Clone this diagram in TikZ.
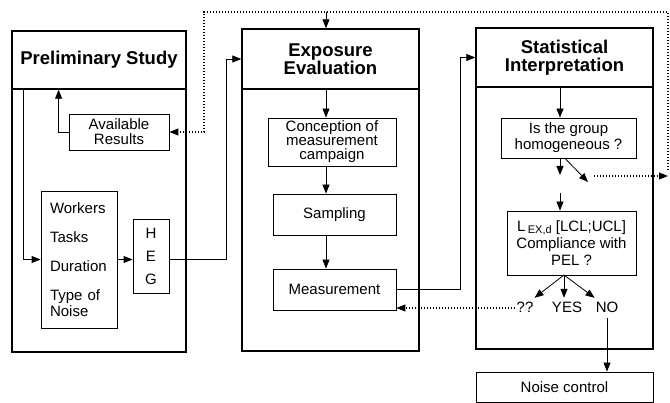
\documentclass[tikz,border=0pt]{standalone}
\usepackage{fontspec}
\setmainfont{Liberation Sans}
\usetikzlibrary{positioning,calc,arrows.meta}

\tikzset{
  head/.style={draw, line width=1.4pt, font=\fontsize{18.5}{18}\selectfont\bfseries, align=center, inner sep=0pt},
  frame/.style={draw, line width=1.4pt, inner sep=0pt},
  box/.style={draw, line width=0.8pt, font=\fontsize{15}{15}\selectfont, align=center, inner sep=0pt},
  lbl/.style={font=\fontsize{15}{15}\selectfont, inner xsep=1pt, inner ysep=5pt, text height=10pt, text depth=0pt},
  arr/.style={line width=0.8pt, -{Triangle[length=9pt,width=7pt]}},
  dotarr/.style={line width=1.1pt, dash pattern=on 1.1pt off 1.9pt, -{Triangle[length=9pt,width=7pt]}},
}

\begin{document}
\begin{tikzpicture}[x=1pt,y=-1pt]
    \useasboundingbox (0,0) rectangle (670,403);
    % columns of the vertical flow arrows
    \coordinate (leftcol) at (23,0);
    \coordinate (evalcol) at (326,0);
    \coordinate (statcol) at (560,0);

    % Preliminary Study
    \node[frame, minimum width=174pt, minimum height=263pt] (prelimbody) at (99,220.5) {};
    \node[head, minimum width=174pt, minimum height=58pt] (prelimhead) at (99,60) {Preliminary Study};
    \node[box, minimum width=100pt, minimum height=36pt] (avail) at (119,132) {Available\\Results};
    \node[box, font=\fontsize{15}{16}\selectfont, align=left, text width=58pt, inner xsep=9pt, minimum height=137pt] (factors) at (79,259.5) {Workers\\[13pt]Tasks\\[13pt]Duration\\[13pt]Type of\\Noise};
    \node[box, minimum width=36pt, minimum height=74pt] (heg) at (151,256) {H\\[8pt]E\\[8pt]G};

    % Exposure Evaluation
    \node[frame, minimum width=177pt, minimum height=262pt] (evalbody) at (330.5,220) {};
    \node[head, minimum width=177pt, minimum height=60pt] (evalhead) at (330.5,59) {Exposure\\Evaluation};
    \node[box, font=\fontsize{15}{14}\selectfont, minimum width=128pt, minimum height=48pt] (conc) at (332,142) {Conception of\\measurement\\campaign};
    \node[box, minimum width=123pt, minimum height=41pt] (samp) at (334.5,214.5) {Sampling};
    \node[box, minimum width=123pt, minimum height=41pt] (meas) at (334.5,289.5) {Measurement};

    % Statistical Interpretation
    \node[frame, minimum width=177pt, minimum height=262pt] (statbody) at (564.5,218) {};
    \node[head, minimum width=177pt, minimum height=59pt] (stathead) at (564.5,57.5) {Statistical\\Interpretation};
    \node[box, font=\fontsize{15}{16}\selectfont, minimum width=135pt, minimum height=40pt] (homog) at (568.5,138) {Is the group\\homogeneous ?};
    \node[box, font=\fontsize{15}{17}\selectfont, minimum width=129pt, minimum height=64pt] (lex) at (571.5,243) {L\,\raisebox{-2.5pt}{\fontsize{11}{11}\selectfont EX,d}\ [LCL;UCL]\\Compliance with\\PEL ?};
    \node[lbl] (unsure) at (525,308) {??};
    \node[lbl] (yes) at (567,308) {YES};
    \node[lbl] (no) at (607,308) {NO};
    \node[box, minimum width=177pt, minimum height=30pt] (noise) at (564.5,387) {Noise control};

    % Preliminary Study flow
    \draw[arr] (leftcol |- prelimhead.south) |- (factors.west);
    \draw[arr] (avail.west) -| ([xshift=-10pt]avail.west |- prelimhead.south);
    \draw[arr] (factors.east) -- (factors.east -| heg.west);
    \draw[arr] (heg.east |- factors.east) -- ++(57,0) |- (evalhead.west);

    % Exposure Evaluation flow
    \draw[arr] (evalcol |- evalhead.south) -- (evalcol |- conc.north);
    \draw[arr] (evalcol |- conc.south) -- (evalcol |- samp.north);
    \draw[arr] (evalcol |- samp.south) -- (evalcol |- meas.north);
    \draw[arr] (meas.east) -- ++(64,0) |- (stathead.west);

    % Statistical Interpretation flow
    \coordinate (homdown) at (560,175);
    \coordinate (homdiag) at (588,182);
    \coordinate (lexin) at (560,193);
    \coordinate (lexout) at (564,275);
    \draw[arr] (statcol |- stathead.south) -- (statcol |- homog.north);
    \draw[arr] (statcol |- homog.south) -- (homdown);
    \draw[arr] ([xshift=5pt]statcol |- homog.south) -- (homdiag);
    \draw[arr] (lexin) -- (lexin |- lex.north);
    \draw[arr] (lexout) -- (unsure.north east);
    \draw[arr] (lexout) -- (yes.north -| lexout);
    \draw[arr] (lexout) -- (no.north west);
    \draw[arr] (no.south) -- (no.south |- noise.north);

    % dotted feedback loops
    \coordinate (nothom) at (594,176);
    \coordinate (loopse) at (668,176);
    \coordinate (loopnw) at (204,12);
    \draw[dotarr] (nothom) -- (loopse);
    \draw[dotarr] ([yshift=6pt]loopse) |- (loopnw) |- (avail.east);
    \draw[arr] (evalcol |- loopnw) -- (evalcol |- evalhead.north);
    \draw[dotarr] (unsure.west) -- (unsure.west -| meas.east);
\end{tikzpicture}
\end{document}
